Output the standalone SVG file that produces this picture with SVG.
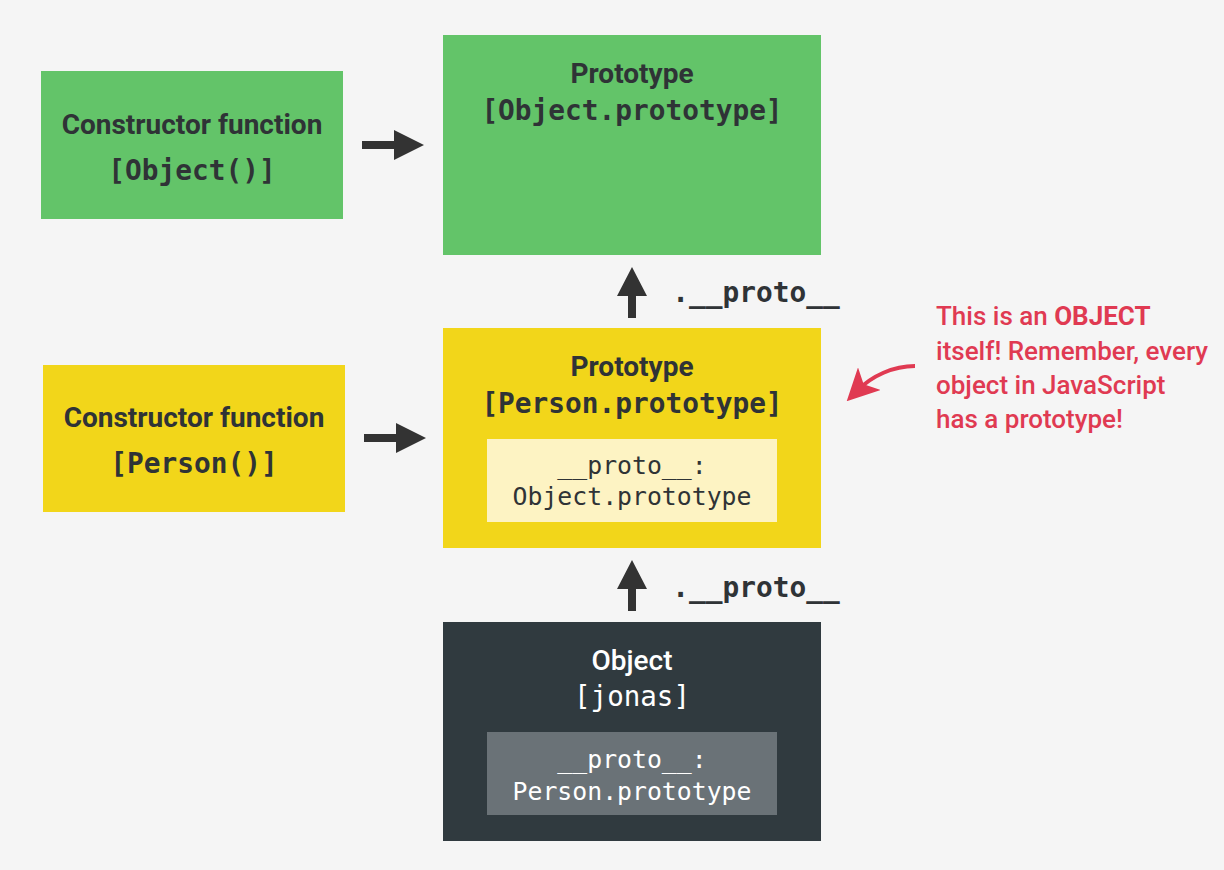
<svg xmlns="http://www.w3.org/2000/svg" width="1224" height="870" viewBox="0 0 1224 870">
<style>
.title{font-family:Roboto,"Liberation Sans",sans-serif;font-weight:700;font-size:28px;fill:#2f3336;text-anchor:middle}
.mono{font-family:"DejaVu Sans Mono","Liberation Mono",monospace;font-weight:700;font-size:27.8px;fill:#2f3336;text-anchor:middle}
.mono2{font-family:"DejaVu Sans Mono","Liberation Mono",monospace;font-size:24.8px;fill:#2f3336;text-anchor:middle}
.white{fill:#ffffff}
.note{font-family:Roboto,"Liberation Sans",sans-serif;font-weight:500;font-size:26px;fill:#e03a52}
.arrow{fill:#333333}
</style>
<defs>
<marker id="redhead" markerWidth="8" markerHeight="8" refX="4" refY="4" orient="auto" markerUnits="strokeWidth">
<path d="M0,0 L8,4 L0,8 L2,4 Z" fill="#e03a52"/>
</marker>
</defs>
<rect width="1224" height="870" fill="#f5f5f5"/>

<g id="node-object-constructor">
<rect x="41" y="71" width="302" height="148" fill="#63c469"/>
<text class="title" x="192" y="134">Constructor function</text>
<text class="mono" x="192" y="180">[Object()]</text>
</g>

<g id="node-object-prototype">
<rect x="443" y="35" width="378" height="220" fill="#63c469"/>
<text class="title" x="632" y="83">Prototype</text>
<text class="mono" x="632" y="120">[Object.prototype]</text>
</g>

<g id="node-person-constructor">
<rect x="43" y="365" width="302" height="147" fill="#f2d61a"/>
<text class="title" x="194" y="427">Constructor function</text>
<text class="mono" x="194" y="473">[Person()]</text>
</g>

<g id="node-person-prototype">
<rect x="443" y="328" width="378" height="220" fill="#f2d61a"/>
<text class="title" x="632" y="376">Prototype</text>
<text class="mono" x="632" y="413">[Person.prototype]</text>
<rect x="487" y="439" width="290" height="83" fill="#fdf3c3"/>
<text class="mono2" x="632" y="474">__proto__:</text>
<text class="mono2" x="632" y="505">Object.prototype</text>
</g>

<g id="node-jonas">
<rect x="443" y="622" width="378" height="219" fill="#303a3f"/>
<text class="title white" x="632" y="670" style="font-weight:500">Object</text>
<text class="mono2 white" x="632" y="706" style="font-size:27.5px">[jonas]</text>
<rect x="487" y="732" width="290" height="83" fill="#6a7277"/>
<text class="mono2 white" x="632" y="768">__proto__:</text>
<text class="mono2 white" x="632" y="800">Person.prototype</text>
</g>

<g id="connectors">
<path class="arrow" d="M362,141 L394,141 L394,130 L424,145 L394,160 L394,149 L362,149 Z"/>
<path class="arrow" d="M364,434 L396,434 L396,423 L426,438 L396,453 L396,442 L364,442 Z"/>
<path class="arrow" d="M628,318 L628,296 L617,296 L632,267 L647,296 L636,296 L636,318 Z"/>
<path class="arrow" d="M628,611 L628,589 L617,589 L632,560 L647,589 L636,589 L636,611 Z"/>
<text class="mono" x="756" y="302">.__proto__</text>
<text class="mono" x="756" y="597">.__proto__</text>
<path d="M915,366 C893,366 872,376 858,390" fill="none" stroke="#e03a52" stroke-width="4" marker-end="url(#redhead)"/>
</g>

<g id="note">
<text class="note" x="936" y="325">This is an <tspan font-weight="700">OBJECT</tspan></text>
<text class="note" x="936" y="360">itself! Remember, every</text>
<text class="note" x="936" y="394">object in JavaScript</text>
<text class="note" x="936" y="428">has a prototype!</text>
</g>
</svg>
